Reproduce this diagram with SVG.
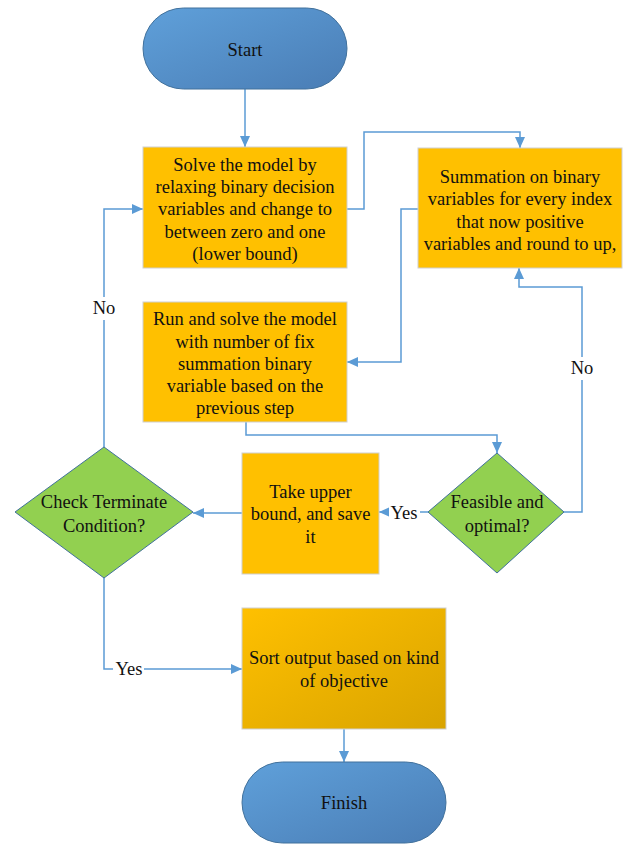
<svg xmlns="http://www.w3.org/2000/svg" width="624" height="845" viewBox="0 0 624 845">
<style>
  .t { font-family: "Liberation Serif", "Times New Roman", serif; font-size: 18.5px; fill: #111; text-anchor: middle; }
  .box { fill: #FFC000; stroke: #CFCFCF; stroke-width: 1; }
  .dia { fill: #92D050; stroke: #41719C; stroke-width: 1; }
  .term { fill: url(#blueGrad); stroke: #41719C; stroke-width: 1; }
  .con { fill: none; stroke: #5B9BD5; stroke-width: 1.5; }
  .lblbg { fill: #FFFFFF; }
</style>
<defs>
  <linearGradient id="blueGrad" x1="0" y1="0" x2="1" y2="1">
    <stop offset="0" stop-color="#5FA0DA"/>
    <stop offset="1" stop-color="#4A7DB5"/>
  </linearGradient>
  <linearGradient id="goldGrad" x1="0" y1="0" x2="1" y2="1">
    <stop offset="0" stop-color="#FFC000"/>
    <stop offset="1" stop-color="#D9A400"/>
  </linearGradient>
  <marker id="arr" markerUnits="userSpaceOnUse" markerWidth="12" markerHeight="12" viewBox="0 0 12 12" refX="11" refY="6" orient="auto">
    <path d="M0,1 L11,6 L0,11 Z" fill="#5B9BD5"/>
  </marker>
</defs>

<g id="connectors">
  <path class="con" d="M245,89 V147" marker-end="url(#arr)"/>
  <path class="con" d="M347,209 H364 V132 H520 V148" marker-end="url(#arr)"/>
  <path class="con" d="M418,209 H401 V362 H347" marker-end="url(#arr)"/>
  <path class="con" d="M246,422 V435 H497 V453" marker-end="url(#arr)"/>
  <path class="con" d="M564,512 H582 V287 H519 V268" marker-end="url(#arr)"/>
  <path class="con" d="M428,512 H379" marker-end="url(#arr)"/>
  <path class="con" d="M242,513 H193" marker-end="url(#arr)"/>
  <path class="con" d="M104,447 V209 H143" marker-end="url(#arr)"/>
  <path class="con" d="M104,578 V669 H242" marker-end="url(#arr)"/>
  <path class="con" d="M344,729 V762" marker-end="url(#arr)"/>
  <rect class="lblbg" x="92" y="297" width="24" height="23"/>
  <text class="t" x="104" y="314">No</text>
  <rect class="lblbg" x="570" y="357" width="24" height="23"/>
  <text class="t" x="582" y="374">No</text>
  <rect class="lblbg" x="389" y="502" width="31" height="22"/>
  <text class="t" x="404" y="519">Yes</text>
  <rect class="lblbg" x="113" y="659" width="31" height="22"/>
  <text class="t" x="129" y="675">Yes</text>
</g>

<g id="start">
  <rect class="term" x="143" y="8" width="204" height="81" rx="40.5" ry="40.5"/>
  <text class="t" x="245" y="56">Start</text>
</g>

<g id="solve-relaxed">
  <rect class="box" x="143" y="147" width="204" height="121"/>
  <text class="t" x="245" y="171">Solve the model by</text>
  <text class="t" x="245" y="193">relaxing binary decision</text>
  <text class="t" x="245" y="215">variables and change to</text>
  <text class="t" x="245" y="238">between zero and one</text>
  <text class="t" x="245" y="260">(lower bound)</text>
</g>

<g id="summation">
  <rect class="box" x="418" y="148" width="204" height="120"/>
  <text class="t" x="520" y="183">Summation on binary</text>
  <text class="t" x="520" y="205">variables for every index</text>
  <text class="t" x="520" y="228">that now positive</text>
  <text class="t" x="520" y="250">variables and round to up,</text>
</g>

<g id="run-fixed">
  <rect class="box" x="143" y="302" width="204" height="120"/>
  <text class="t" x="245" y="325">Run and solve the model</text>
  <text class="t" x="245" y="348">with number of fix</text>
  <text class="t" x="245" y="370">summation binary</text>
  <text class="t" x="245" y="392">variable based on the</text>
  <text class="t" x="245" y="414">previous step</text>
</g>

<g id="feasible">
  <polygon class="dia" points="497,453 564,512 497,573 428,512"/>
  <text class="t" x="497" y="508">Feasible and</text>
  <text class="t" x="497" y="532">optimal?</text>
</g>

<g id="take-upper">
  <rect class="box" x="242" y="453" width="137" height="121"/>
  <text class="t" x="310.5" y="498">Take upper</text>
  <text class="t" x="310.5" y="520">bound, and save</text>
  <text class="t" x="310.5" y="543">it</text>
</g>

<g id="check-terminate">
  <polygon class="dia" points="104,447 193,512 104,578 15,512"/>
  <text class="t" x="104" y="508">Check Terminate</text>
  <text class="t" x="104" y="532">Condition?</text>
</g>

<g id="sort-output">
  <rect x="242" y="608" width="204" height="121" fill="url(#goldGrad)" stroke="#CFCFCF" stroke-width="1"/>
  <text class="t" x="344" y="664">Sort output based on kind</text>
  <text class="t" x="344" y="687">of objective</text>
</g>

<g id="finish">
  <rect class="term" x="242" y="762" width="204" height="81" rx="40.5" ry="40.5"/>
  <text class="t" x="344" y="809">Finish</text>
</g>
</svg>
